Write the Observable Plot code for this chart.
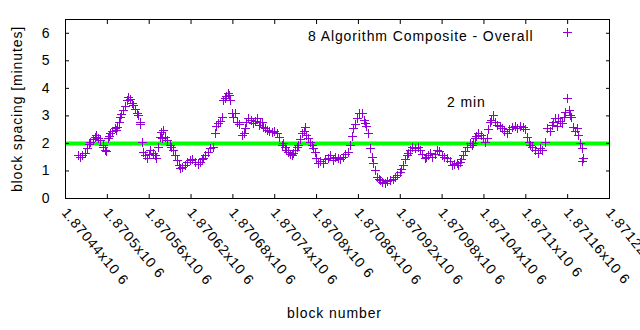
<!DOCTYPE html>
<html>
<head>
<meta charset="utf-8">
<script src="https://cdn.jsdelivr.net/npm/d3@7"></script>
<script src="https://cdn.jsdelivr.net/npm/@observablehq/plot@0.6"></script>
<style>
  html, body { margin: 0; padding: 0; background: #fff; }
</style>
</head>
<body>
<div id="chart"></div>
<script>
// ---- data ----
const blocks = [
  1870459, 1870464, 1870472, 1870476, 1870483, 1870487, 1870494, 1870497, 1870502, 1870504,
  1870512, 1870515, 1870519, 1870523, 1870529, 1870530, 1870536, 1870537, 1870543, 1870547,
  1870550, 1870552, 1870558, 1870562, 1870569, 1870573, 1870576, 1870579, 1870580, 1870583,
  1870590, 1870595, 1870601, 1870605, 1870612, 1870619, 1870626, 1870634, 1870638, 1870645,
  1870652, 1870655, 1870659, 1870665, 1870669, 1870674, 1870677, 1870681, 1870684, 1870687,
  1870694, 1870698, 1870702, 1870710, 1870715, 1870720, 1870724, 1870730, 1870737, 1870744,
  1870751, 1870755, 1870760, 1870765, 1870770, 1870774, 1870780, 1870784, 1870788, 1870794,
  1870798, 1870803, 1870810, 1870817, 1870824, 1870831, 1870839, 1870846, 1870849, 1870853,
  1870859, 1870866, 1870870, 1870874, 1870877, 1870882, 1870887, 1870892, 1870899, 1870906,
  1870913, 1870920, 1870925, 1870930, 1870935, 1870942, 1870949, 1870956, 1870960, 1870966,
  1870973, 1870980, 1870988, 1870995, 1871002, 1871006, 1871011, 1871016, 1871023, 1871028,
  1871032, 1871039, 1871045, 1871049, 1871054, 1871059, 1871067, 1871074, 1871081, 1871088,
  1871097, 1871102, 1871107, 1871114, 1871121, 1871128, 1871131, 1871138, 1871143, 1871147,
  1871153, 1871157, 1871160, 1871164, 1871168, 1871174, 1871176, 1871181, 1871183,
  1870461, 1870468, 1870474, 1870480, 1870485, 1870490, 1870495, 1870499, 1870503, 1870508,
  1870513, 1870517, 1870521, 1870526, 1870533, 1870540, 1870545, 1870548, 1870555, 1870560,
  1870566, 1870571, 1870578, 1870586, 1870592, 1870598, 1870603, 1870608, 1870615, 1870622,
  1870630, 1870636, 1870641, 1870648, 1870657, 1870662, 1870667, 1870671, 1870675, 1870679,
  1870690, 1870696, 1870700, 1870706, 1870712, 1870718, 1870722, 1870727, 1870733, 1870740,
  1870747, 1870753, 1870757, 1870762, 1870767, 1870772, 1870777, 1870782, 1870786, 1870791,
  1870796, 1870800, 1870806, 1870813, 1870820, 1870827, 1870835, 1870842, 1870851, 1870856,
  1870862, 1870868, 1870872, 1870880, 1870884, 1870890, 1870895, 1870902, 1870910, 1870916,
  1870922, 1870928, 1870932, 1870938, 1870946, 1870952, 1870958, 1870963, 1870970, 1870976,
  1870984, 1870992, 1870998, 1871004, 1871008, 1871014, 1871020, 1871025, 1871030, 1871036,
  1871042, 1871047, 1871051, 1871057, 1871063, 1871070, 1871077, 1871085, 1871092, 1871100,
  1871105, 1871110, 1871118, 1871124, 1871135, 1871140, 1871145, 1871150, 1871155, 1871162,
  1871166, 1871171, 1871178, 1871182
];
const spacing = [
  1.55, 1.56, 1.80, 2.05, 2.23, 2.18, 1.93, 1.75, 2.18, 2.36,
  2.54, 2.58, 2.95, 3.20, 3.56, 3.67, 3.45, 3.38, 3.08, 2.76,
  2.04, 1.67, 1.45, 1.74, 1.56, 1.85, 2.20, 2.18, 2.47, 2.22,
  1.93, 1.75, 1.38, 1.09, 1.20, 1.38, 1.31, 1.31, 1.45, 1.67,
  1.85, 2.36, 2.72, 2.95, 3.63, 3.81, 3.56, 2.95, 3.08, 2.76,
  2.29, 2.54, 2.90, 2.72, 2.90, 2.76, 2.58, 2.47, 2.40, 2.36,
  1.93, 1.85, 1.67, 1.56, 1.74, 1.93, 2.36, 2.58, 2.18, 1.93,
  1.67, 1.27, 1.27, 1.45, 1.38, 1.45, 1.50, 1.67, 1.93, 2.54,
  2.90, 3.08, 2.72, 2.36, 1.80, 1.27, 0.76, 0.65, 0.54, 0.65,
  0.76, 0.94, 1.20, 1.56, 1.74, 1.80, 1.74, 1.45, 1.56, 1.50,
  1.74, 1.56, 1.45, 1.20, 1.27, 1.31, 1.56, 1.85, 1.93, 2.18,
  2.36, 2.18, 2.18, 2.76, 3.02, 2.65, 2.54, 2.36, 2.58, 2.54,
  2.58, 2.22, 1.93, 1.74, 1.80, 2.04, 2.54, 2.65, 2.90, 2.90,
  2.72, 3.12, 3.63, 3.02, 2.58, 2.54, 2.29, 1.80, 1.45,
  1.50, 1.65, 1.95, 2.15, 2.30, 2.10, 1.85, 1.70, 2.25, 2.45,
  2.48, 2.75, 3.05, 3.35, 3.60, 3.25, 3.00, 2.70, 1.55, 1.60,
  1.65, 1.45, 2.40, 2.10, 1.85, 1.55, 1.20, 1.12, 1.30, 1.42,
  1.25, 1.40, 1.55, 1.80, 2.60, 2.80, 3.55, 3.70, 3.75, 3.10,
  2.70, 2.35, 2.75, 2.85, 2.80, 2.65, 2.75, 2.55, 2.45, 2.45,
  2.20, 2.00, 1.75, 1.60, 1.65, 1.85, 2.15, 2.45, 2.30, 2.05,
  1.80, 1.45, 1.35, 1.40, 1.55, 1.48, 1.40, 1.58, 2.25, 2.70,
  3.10, 2.85, 2.60, 1.50, 1.00, 0.70, 0.58, 0.60, 0.70, 0.85,
  1.05, 1.40, 1.65, 1.85, 1.85, 1.60, 1.50, 1.65, 1.60, 1.70,
  1.50, 1.35, 1.25, 1.20, 1.40, 1.70, 2.00, 2.00, 2.25, 2.30,
  2.05, 2.50, 2.85, 2.75, 2.60, 2.45, 2.50, 2.62, 2.60, 2.50,
  2.05, 1.85, 1.65, 1.75, 2.45, 2.75, 2.60, 2.80, 2.95, 3.20,
  2.95, 2.45, 2.00, 1.35
];
const targetMinutes = [2];
const xTickValues = [1870440, 1870500, 1870560, 1870620, 1870680, 1870740, 1870800,
  1870860, 1870920, 1870980, 1871040, 1871100, 1871160, 1871220];
const xTickLabels = ["1.87044x10 6", "1.8705x10 6", "1.87056x10 6", "1.87062x10 6",
  "1.87068x10 6", "1.87074x10 6", "1.8708x10 6", "1.87086x10 6", "1.87092x10 6",
  "1.87098x10 6", "1.87104x10 6", "1.8711x10 6", "1.87116x10 6", "1.87122x10 6"];
const yTickValues = [0, 1, 2, 3, 4, 5, 6];
const seriesName = ["8 Algorithm Composite - Overall"];
const noteText = ["2 min"];
const noteX = [1870987];
const noteY = [3.5];

// ---- build ----
const points = blocks.map((b, i) => ({block: b, minutes: spacing[i]}));
const purple = "#9400d3";
const plusSymbol = {
  draw(context, size) {
    const r = Math.sqrt(size / Math.PI);
    context.moveTo(-r, 0); context.lineTo(r, 0);
    context.moveTo(0, -r); context.lineTo(0, r);
  }
};

const chart = Plot.plot({
  width: 640,
  height: 330,
  marginLeft: 65,
  marginRight: 31,
  marginTop: 19,
  marginBottom: 132,
  style: {fontFamily: "'Liberation Sans', Arial, sans-serif", fontSize: "14px", letterSpacing: "0.9px", background: "#fff", color: "#000"},
  x: {domain: [1870440, 1871220], axis: null},
  y: {domain: [0, 6.5], axis: null},
  marks: [
    Plot.ruleY(targetMinutes, {stroke: "#00ff00", strokeWidth: 4}),
    Plot.dot(points, {x: "block", y: "minutes", symbol: plusSymbol, r: 4.5, fill: "none", stroke: purple, strokeWidth: 1, shapeRendering: "crispEdges"}),
    Plot.frame({stroke: "#000", shapeRendering: "crispEdges"}),
    // inward tick marks on all four sides
    Plot.axisY({anchor: "left", ticks: yTickValues, tickSize: -4, tickFormat: () => "", label: null}),
    Plot.axisY({anchor: "right", ticks: yTickValues, tickSize: -4, tickFormat: () => "", label: null}),
    Plot.axisX({anchor: "bottom", ticks: xTickValues, tickSize: -4, tickFormat: () => "", label: null}),
    Plot.axisX({anchor: "top", ticks: xTickValues, tickSize: -4, tickFormat: () => "", label: null}),
    // y tick labels
    Plot.text(yTickValues, {y: d => d, text: d => String(d), frameAnchor: "left", textAnchor: "end", dx: -15, fill: "#000"}),
    // rotated x tick labels
    Plot.text(xTickValues, {x: d => d, text: (d, i) => xTickLabels[i], frameAnchor: "bottom", textAnchor: "start", lineAnchor: "top", rotate: 50, dx: 3, dy: 8, fill: "#000"}),
    // axis titles
    Plot.text(["block spacing [minutes]"], {frameAnchor: "left", textAnchor: "middle", rotate: -90, dx: -48, fill: "#000"}),
    Plot.text(["block number"], {frameAnchor: "bottom", textAnchor: "middle", dy: 119, dx: -3, fill: "#000"}),
    // key
    Plot.text(seriesName, {frameAnchor: "top-right", textAnchor: "end", dx: -76, dy: 12, fill: "#000"}),
    Plot.dot([0], {frameAnchor: "top-right", dx: -42, dy: 13, symbol: plusSymbol, r: 4.5, fill: "none", stroke: purple, strokeWidth: 1, shapeRendering: "crispEdges"}),
    // annotation
    Plot.text(noteText, {x: noteX, y: noteY, textAnchor: "start", fill: "#000"})
  ]
});
document.getElementById("chart").appendChild(chart);
</script>
</body>
</html>
